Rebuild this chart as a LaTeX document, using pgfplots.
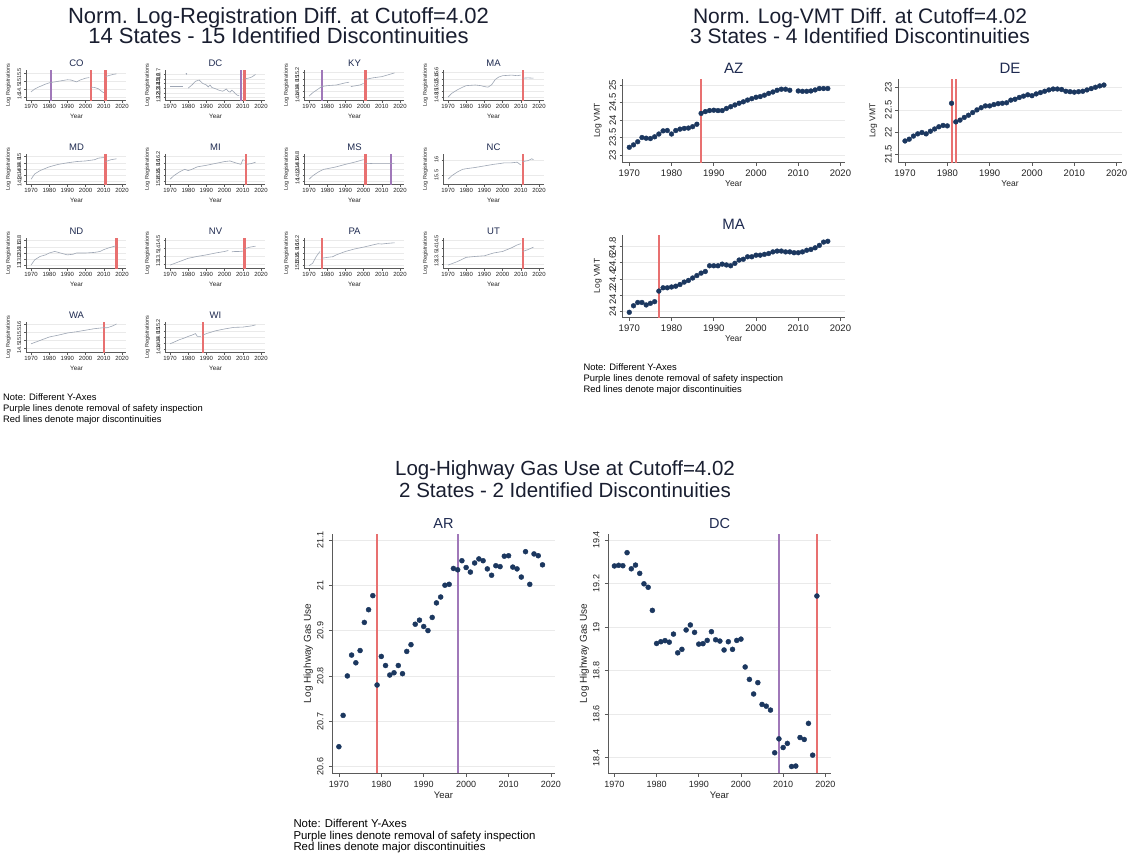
\documentclass[border=0pt]{standalone}
\usepackage{fontspec}
\setmainfont{Liberation Sans}
\usepackage{pgfplots}
\pgfplotsset{compat=1.18}
\definecolor{navyc}{RGB}{27,55,95}
\definecolor{redc}{RGB}{232,112,112}
\definecolor{purc}{RGB}{160,120,185}
\definecolor{gridc}{RGB}{234,234,234}
\definecolor{axc}{RGB}{90,90,90}
\definecolor{titc}{RGB}{30,42,80}
\definecolor{mtc}{RGB}{25,30,48}
\definecolor{txtc}{RGB}{35,35,35}
\definecolor{regc}{RGB}{158,166,180}
\newcommand{\fs}[1]{\fontsize{#1}{#1}\selectfont}
% vertical band: colour, x-left, x-right, y-bottom, y-top
\newcommand{\vb}[5]{\addplot[fill=#1, draw=none, forget plot] coordinates {(#2,#4)(#3,#4)(#3,#5)(#2,#5)};}
\newcommand{\rg}[1]{\addplot[draw=regc, line width=0.6pt, forget plot] coordinates {#1};}
\pgfplotsset{
 base/.style={
  scale only axis,
  axis x line*=bottom, axis y line*=left,
  tick align=outside,
  xtick={1970,1980,1990,2000,2010,2020},
  xticklabels={1970,1980,1990,2000,2010,2020},
  ymajorgrids,
  grid style={draw=gridc, line width=0.6pt},
  axis line style={draw=axc, line width=0.6pt},
  major tick style={draw=axc, line width=0.6pt},
  xticklabel style={anchor=north, inner sep=0pt, text=txtc},
  yticklabel style={rotate=90, anchor=south, inner sep=0pt, text=txtc},
  every axis title/.style={at={(0.5,1)}, anchor=base, text=titc},
  every axis x label/.style={at={(0.5,0)}, anchor=base, text=txtc},
  every axis y label/.style={rotate=90, anchor=center, text=txtc},
  xlabel={Year},
 },
 reg/.style={base, width=100pt, height=31pt, xmin=1967.5, xmax=2022.5, ymin=0, ymax=1,
   ytick={0.12,0.37,0.62,0.87}, major tick length=2pt,
   xticklabel style={font=\fs{6}}, yticklabel style={font=\fs{5.5}},
   xticklabel shift=2pt, yticklabel shift=3pt,
   every axis title/.append style={font=\fs{9.5}, yshift=3.5pt},
   every axis x label/.append style={font=\fs{6.3}, yshift=-18pt},
   ylabel={Log Registrations},
   every axis y label/.append style={font=\fs{5.5}, at={(axis description cs:-0.18,0.5)}},
   grid style={line width=0.4pt}, axis line style={line width=0.4pt}, major tick style={line width=0.4pt}},
 vmt/.style={base, width=222pt, height=84pt, xmin=1968.44, xmax=2021, major tick length=3pt,
   xticklabel style={font=\fs{9.5}}, yticklabel style={font=\fs{9.5}},
   xticklabel shift=4pt, yticklabel shift=3.5pt,
   every axis title/.append style={font=\fs{15}, yshift=5.3pt},
   every axis x label/.append style={font=\fs{8.5}, yshift=-23.5pt},
   ylabel={Log VMT},
   every axis y label/.append style={font=\fs{8.5}, at={(axis description cs:-0.112,0.5)}}},
 gas/.style={base, width=222.5pt, height=239.5pt, xmin=1968.45, xmax=2020.9, major tick length=3.5pt,
   xticklabel style={font=\fs{9}}, yticklabel style={font=\fs{9}},
   xticklabel shift=5pt, yticklabel shift=5.2pt,
   every axis title/.append style={font=\fs{14.5}, yshift=5.5pt},
   every axis x label/.append style={font=\fs{9.5}, yshift=-25.4pt},
   ylabel={Log Highway Gas Use},
   every axis y label/.append style={font=\fs{10}, at={(axis description cs:-0.108,0.5)}}},
 dots/.style={only marks, mark=*, mark size=#1, mark options={fill=navyc, draw=navyc}},
}
\begin{document}
\begin{tikzpicture}
\fill[white] (0,0) rectangle (1127pt,-855pt);
% ---------- titles ----------
\node[anchor=base, font=\fs{22}, text=mtc] at (278.5pt,-23.6pt) {Norm. Log-Registration Diff. at Cutoff=4.02};
\node[anchor=base, font=\fs{22}, text=mtc] at (278.5pt,-43.6pt) {14 States - 15 Identified Discontinuities};
\node[anchor=base, font=\fs{21}, text=mtc] at (860pt,-23.4pt) {Norm. Log-VMT Diff. at Cutoff=4.02};
\node[anchor=base, font=\fs{21}, text=mtc] at (860pt,-43.4pt) {3 States - 4 Identified Discontinuities};
\node[anchor=base, font=\fs{20.5}, text=mtc] at (565pt,-475.3pt) {Log-Highway Gas Use at Cutoff=4.02};
\node[anchor=base, font=\fs{20.5}, text=mtc] at (565pt,-497.3pt) {2 States - 2 Identified Discontinuities};
% ---------- notes ----------
\node[anchor=base west, font=\fs{9.4}, inner sep=0pt] at (3pt,-400.5pt) {Note: Different Y-Axes};
\node[anchor=base west, font=\fs{9.4}, inner sep=0pt] at (3pt,-411.5pt) {Purple lines denote removal of safety inspection};
\node[anchor=base west, font=\fs{9.4}, inner sep=0pt] at (3pt,-422.5pt) {Red lines denote major discontinuities};
\node[anchor=base west, font=\fs{9.4}, inner sep=0pt] at (583.3pt,-370.5pt) {Note: Different Y-Axes};
\node[anchor=base west, font=\fs{9.4}, inner sep=0pt] at (583.3pt,-381.5pt) {Purple lines denote removal of safety inspection};
\node[anchor=base west, font=\fs{9.4}, inner sep=0pt] at (583.3pt,-392.5pt) {Red lines denote major discontinuities};
\node[anchor=base west, font=\fs{11.4}, inner sep=0pt] at (293.3pt,-827.4pt) {Note: Different Y-Axes};
\node[anchor=base west, font=\fs{11.4}, inner sep=0pt] at (293.3pt,-839pt) {Purple lines denote removal of safety inspection};
\node[anchor=base west, font=\fs{11.4}, inner sep=0pt] at (293.3pt,-850.3pt) {Red lines denote major discontinuities};
% ---------- registration panels ----------
% row 1
\begin{axis}[reg, at={(26.5pt,-100.5pt)}, anchor=south west, title={CO}, yticklabels={14,14.5,15,15.5}]
\vb{purc}{1980.4}{1981.6}{0}{1}
\vb{redc}{2002.4}{2003.6}{0}{1}
\vb{redc}{2010.4}{2011.6}{0}{1}
\rg{(1970,0.28)(1972,0.37)(1974,0.43)(1976,0.48)(1978,0.53)(1980,0.57)(1982,0.59)(1985,0.62)(1988,0.65)(1990,0.67)(1992,0.66)(1994,0.62)(1995,0.60)(1997,0.66)(2000,0.72)(2002,0.74)}
\rg{(2003,0.43)(2005,0.42)(2007,0.38)(2009,0.29)(2010,0.25)}
\rg{(2011,0.77)(2013,0.81)(2015,0.84)(2017,0.86)}
\end{axis}
\begin{axis}[reg, at={(165.5pt,-100.5pt)}, anchor=south west, title={DC}, ytick={0.1,0.25,0.4,0.55,0.7,0.85}, yticklabels={12.2,12.3,12.4,12.5,12.6,12.7}]
\vb{purc}{2008.4}{2009.6}{0}{1}
\vb{redc}{2010.4}{2011.6}{0}{1}
\rg{(1970,0.46)(1972,0.46)(1975,0.46)(1977,0.46)}
\addplot[only marks, mark=*, mark size=0.5pt, mark options={draw=regc, fill=regc}, forget plot] coordinates {(1979,0.86)};
\rg{(1980,0.40)(1982,0.50)(1984,0.62)(1986,0.66)(1988,0.55)(1990,0.50)(1991,0.44)(1992,0.50)(1993,0.42)(1995,0.38)(1997,0.33)(1999,0.30)(2001,0.37)(2002,0.30)(2003,0.27)(2004,0.33)(2005,0.28)(2006,0.22)(2007,0.17)(2008,0.16)}
\rg{(2011,0.70)(2013,0.72)(2015,0.76)(2017,0.84)}
\end{axis}
\begin{axis}[reg, at={(304.5pt,-100.5pt)}, anchor=south west, title={KY}, ytick={0.1,0.3,0.5,0.7,0.9}, yticklabels={14.4,14.6,14.8,15,15.2}]
\vb{purc}{1976.4}{1977.6}{0}{1}
\vb{redc}{2000.4}{2001.6}{0}{1}
\rg{(1970,0.14)(1972,0.25)(1975,0.37)(1977,0.45)(1980,0.48)(1985,0.50)(1990,0.57)(1992,0.59)}
\rg{(1993,0.45)(1995,0.47)(1998,0.50)(2000,0.55)}
\rg{(2001,0.68)(2005,0.73)(2010,0.77)(2013,0.82)(2017,0.89)}
\end{axis}
\begin{axis}[reg, at={(443.5pt,-100.5pt)}, anchor=south west, title={MA}, ytick={0.1,0.3,0.5,0.7,0.9}, yticklabels={14.8,15,15.2,15.4,15.6}]
\vb{redc}{2010.4}{2011.6}{0}{1}
\rg{(1970,0.11)(1972,0.23)(1975,0.34)(1978,0.43)(1980,0.48)(1985,0.50)(1988,0.48)(1990,0.45)(1992,0.43)(1994,0.51)(1996,0.68)(1998,0.76)(2000,0.80)(2005,0.82)(2008,0.80)(2010,0.82)}
\rg{(2011,0.72)(2014,0.73)(2017,0.72)}
\end{axis}
% row 2
\begin{axis}[reg, at={(26.5pt,-184.5pt)}, anchor=south west, title={MD}, ytick={0.1,0.3,0.5,0.7,0.9}, yticklabels={14.2,14.4,14.6,14.8,15}]
\vb{redc}{2010.4}{2011.6}{0}{1}
\rg{(1970,0.17)(1972,0.34)(1975,0.45)(1980,0.57)(1985,0.65)(1990,0.70)(1995,0.74)(2000,0.76)(2005,0.80)(2007,0.85)(2010,0.87)}
\rg{(2011,0.74)(2014,0.80)(2017,0.83)}
\end{axis}
\begin{axis}[reg, at={(165.5pt,-184.5pt)}, anchor=south west, title={MI}, ytick={0.1,0.3,0.5,0.7,0.9}, yticklabels={15.4,15.6,15.8,16,16.2}]
\vb{redc}{2011.4}{2012.6}{0}{1}
\rg{(1970,0.17)(1972,0.28)(1975,0.40)(1978,0.49)(1980,0.45)(1982,0.49)(1985,0.57)(1990,0.62)(1995,0.68)(2000,0.74)(2003,0.76)(2006,0.70)(2009,0.65)(2010,0.80)(2011,0.78)}
\rg{(2012,0.65)(2015,0.68)(2017,0.72)}
\end{axis}
\begin{axis}[reg, at={(304.5pt,-184.5pt)}, anchor=south west, title={MS}, ytick={0.1,0.3,0.5,0.7,0.9}, yticklabels={14,14.2,14.4,14.6,14.8}]
\vb{redc}{2000.4}{2001.6}{0}{1}
\vb{purc}{2014.4}{2015.6}{0}{1}
\rg{(1970,0.17)(1972,0.28)(1975,0.40)(1978,0.49)(1980,0.51)(1985,0.57)(1990,0.65)(1995,0.72)(1998,0.77)(2000,0.80)}
\rg{(2001,0.67)(2005,0.68)(2010,0.68)(2015,0.68)(2017,0.68)}
\end{axis}
\begin{axis}[reg, at={(443.5pt,-184.5pt)}, anchor=south west, title={NC}, ytick={0.3,0.8}, yticklabels={15.5,16}]
\vb{redc}{2010.4}{2011.6}{0}{1}
\rg{(1970,0.17)(1972,0.28)(1975,0.40)(1978,0.49)(1980,0.51)(1985,0.55)(1990,0.60)(1995,0.65)(1999,0.68)(2001,0.70)(2005,0.70)(2008,0.72)(2010,0.63)}
\rg{(2011,0.74)(2014,0.77)(2016,0.83)(2017,0.80)}
\end{axis}
% row 3
\begin{axis}[reg, at={(26.5pt,-268.5pt)}, anchor=south west, title={ND}, ytick={0.1,0.3,0.5,0.7,0.9}, yticklabels={13,13.2,13.4,13.6,13.8}]
\vb{redc}{2016.4}{2017.6}{0}{1}
\rg{(1970,0.11)(1972,0.28)(1975,0.39)(1978,0.44)(1980,0.50)(1983,0.55)(1985,0.52)(1988,0.47)(1990,0.44)(1993,0.46)(1995,0.50)(2000,0.50)(2005,0.52)(2008,0.55)(2010,0.61)(2013,0.67)(2016,0.72)(2017,0.73)}
\end{axis}
\begin{axis}[reg, at={(165.5pt,-268.5pt)}, anchor=south west, title={NV}, ytick={0.15,0.4,0.65,0.9}, yticklabels={13,13.5,14,14.5}]
\vb{redc}{2010.4}{2011.6}{0}{1}
\rg{(1970,0.11)(1975,0.22)(1980,0.33)(1985,0.39)(1990,0.44)(1995,0.50)(2000,0.55)(2002,0.58)}
\rg{(2004,0.54)(2006,0.55)(2008,0.55)(2010,0.56)}
\rg{(2011,0.64)(2014,0.69)(2017,0.72)}
\end{axis}
\begin{axis}[reg, at={(304.5pt,-268.5pt)}, anchor=south west, title={PA}, ytick={0.1,0.3,0.5,0.7,0.9}, yticklabels={15.5,15.6,15.8,16,16.2}]
\vb{redc}{1976.4}{1977.6}{0}{1}
\rg{(1970,0.09)(1972,0.17)(1974,0.39)(1976,0.55)}
\rg{(1977,0.33)(1980,0.36)(1983,0.38)(1985,0.44)(1990,0.55)(1995,0.63)(2000,0.69)(2005,0.76)(2008,0.80)(2010,0.79)(2013,0.81)(2017,0.83)}
\end{axis}
\begin{axis}[reg, at={(443.5pt,-268.5pt)}, anchor=south west, title={UT}, ytick={0.15,0.4,0.65,0.9}, yticklabels={13,13.5,14,14.5}]
\vb{redc}{2010.4}{2011.6}{0}{1}
\rg{(1970,0.11)(1975,0.22)(1980,0.36)(1985,0.39)(1990,0.41)(1995,0.50)(2000,0.55)(2005,0.67)(2008,0.76)(2010,0.80)}
\rg{(2011,0.55)(2014,0.61)(2017,0.69)}
\end{axis}
% row 4
\begin{axis}[reg, at={(26.5pt,-352.5pt)}, anchor=south west, title={WA}, ytick={0.15,0.4,0.65,0.9}, yticklabels={14.5,15,15.5,16}]
\vb{redc}{2009.4}{2010.6}{0}{1}
\rg{(1970,0.28)(1975,0.39)(1980,0.50)(1985,0.56)(1990,0.63)(1995,0.67)(2000,0.72)(2005,0.77)(2010,0.80)(2012,0.80)(2015,0.86)(2017,0.92)}
\end{axis}
\begin{axis}[reg, at={(165.5pt,-352.5pt)}, anchor=south west, title={WI}, ytick={0.1,0.3,0.5,0.7,0.9}, yticklabels={14.4,14.6,14.8,15,15.2}]
\vb{redc}{1987.4}{1988.6}{0}{1}
\rg{(1970,0.28)(1972,0.33)(1975,0.41)(1978,0.47)(1980,0.52)(1982,0.56)(1984,0.61)(1985,0.52)(1987,0.52)}
\rg{(1988,0.56)(1990,0.61)(1995,0.70)(2000,0.76)(2005,0.81)(2010,0.82)(2015,0.86)(2017,0.89)}
\end{axis}
% ---------- VMT panels ----------
\begin{axis}[vmt, at={(622.7pt,-162.5pt)}, anchor=south west, title={AZ}, ymin=22.786, ymax=25.186,
  ytick={23,23.5,24,24.5,25}, yticklabels={23,23.5,24,24.5,25}]
\vb{redc}{1986.76}{1987.24}{22.786}{25.186}
\addplot[dots=2.4pt] coordinates {
(1970,23.22)(1971,23.29)(1972,23.38)(1973,23.50)(1974,23.48)(1975,23.47)(1976,23.52)(1977,23.60)(1978,23.69)(1979,23.70)
(1980,23.60)(1981,23.70)(1982,23.74)(1983,23.76)(1984,23.77)(1985,23.81)(1986,23.88)(1987,24.19)(1988,24.24)(1989,24.27)
(1990,24.28)(1991,24.27)(1992,24.27)(1993,24.33)(1994,24.38)(1995,24.43)(1996,24.48)(1997,24.52)(1998,24.57)(1999,24.61)
(2000,24.65)(2001,24.67)(2002,24.71)(2003,24.76)(2004,24.80)(2005,24.85)(2006,24.88)(2007,24.88)(2008,24.85)
(2010,24.83)(2011,24.82)(2012,24.82)(2013,24.83)(2014,24.86)(2015,24.90)(2016,24.90)(2017,24.90)};
\end{axis}
\begin{axis}[vmt, at={(898.3pt,-162.5pt)}, anchor=south west, width=223.4pt, xmin=1968.42, xmax=2021.2, title={DE}, ymin=21.315, ymax=23.207,
  ytick={21.5,22,22.5,23}, yticklabels={21.5,22,22.5,23}]
\vb{redc}{1980.76}{1981.24}{21.315}{23.207}
\vb{redc}{1981.76}{1982.24}{21.315}{23.207}
\addplot[dots=2.4pt] coordinates {
(1970,21.80)(1971,21.84)(1972,21.91)(1973,21.96)(1974,21.99)(1975,21.96)(1976,22.02)(1977,22.07)(1978,22.12)(1979,22.15)
(1980,22.14)(1981,22.65)(1982,22.23)(1983,22.27)(1984,22.33)(1985,22.38)(1986,22.44)(1987,22.50)(1988,22.55)(1989,22.59)
(1990,22.59)(1991,22.62)(1992,22.64)(1993,22.65)(1994,22.66)(1995,22.72)(1996,22.74)(1997,22.78)(1998,22.81)(1999,22.84)
(2000,22.82)(2001,22.86)(2002,22.89)(2003,22.92)(2004,22.95)(2005,22.97)(2006,22.97)(2007,22.96)(2008,22.92)(2009,22.91)
(2010,22.90)(2011,22.91)(2012,22.92)(2013,22.95)(2014,22.98)(2015,23.01)(2016,23.04)(2017,23.06)};
\end{axis}
\begin{axis}[vmt, at={(622.7pt,-317.5pt)}, anchor=south west, height=83pt, title={MA}, ymin=23.926, ymax=24.943,
  ytick={24,24.2,24.4,24.6,24.8}, yticklabels={24,24.2,24.4,24.6,24.8}]
\vb{redc}{1976.76}{1977.24}{23.926}{24.943}
\addplot[dots=2.4pt] coordinates {
(1970,23.99)(1971,24.07)(1972,24.11)(1973,24.11)(1974,24.08)(1975,24.10)(1976,24.12)(1977,24.25)(1978,24.29)(1979,24.29)
(1980,24.30)(1981,24.31)(1982,24.33)(1983,24.36)(1984,24.38)(1985,24.41)(1986,24.44)(1987,24.47)(1988,24.49)(1989,24.56)
(1990,24.56)(1991,24.56)(1992,24.58)(1993,24.57)(1994,24.56)(1995,24.59)(1996,24.63)(1997,24.64)(1998,24.67)(1999,24.67)
(2000,24.69)(2001,24.69)(2002,24.70)(2003,24.71)(2004,24.73)(2005,24.74)(2006,24.74)(2007,24.73)(2008,24.73)(2009,24.72)
(2010,24.72)(2011,24.73)(2012,24.75)(2013,24.76)(2014,24.78)(2015,24.81)(2016,24.85)(2017,24.86)};
\end{axis}
% ---------- Gas panels ----------
\begin{axis}[gas, at={(332.3pt,-773pt)}, anchor=south west, title={AR}, ymin=20.586, ymax=21.114,
  ytick={20.6,20.7,20.8,20.9,21,21.1}, yticklabels={20.6,20.7,20.8,20.9,21,21.1}]
\vb{redc}{1978.76}{1979.24}{20.586}{21.114}
\vb{purc}{1997.76}{1998.24}{20.586}{21.114}
\addplot[dots=2.5pt] coordinates {
(1970,20.644)(1971,20.713)(1972,20.800)(1973,20.846)(1974,20.829)(1975,20.856)(1976,20.918)(1977,20.946)(1978,20.977)(1979,20.780)
(1980,20.843)(1981,20.823)(1982,20.802)(1983,20.807)(1984,20.823)(1985,20.805)(1986,20.854)(1987,20.869)(1988,20.914)(1989,20.923)
(1990,20.909)(1991,20.900)(1992,20.929)(1993,20.961)(1994,20.974)(1995,21.000)(1996,21.002)(1997,21.037)(1998,21.034)(1999,21.054)
(2000,21.039)(2001,21.029)(2002,21.049)(2003,21.058)(2004,21.054)(2005,21.036)(2006,21.022)(2007,21.043)(2008,21.041)(2009,21.064)
(2010,21.065)(2011,21.040)(2012,21.036)(2013,21.018)(2014,21.074)(2015,21.002)(2016,21.069)(2017,21.065)(2018,21.045)};
\end{axis}
\begin{axis}[gas, at={(608.3pt,-773pt)}, anchor=south west, xmin=1968.55, xmax=2021.3, title={DC}, ymin=18.33, ymax=19.43,
  ytick={18.4,18.6,18.8,19,19.2,19.4}, yticklabels={18.4,18.6,18.8,19,19.2,19.4}]
\vb{purc}{2008.76}{2009.24}{18.33}{19.43}
\vb{redc}{2017.76}{2018.24}{18.33}{19.43}
\addplot[dots=2.5pt] coordinates {
(1970,19.281)(1971,19.284)(1972,19.282)(1973,19.342)(1974,19.268)(1975,19.285)(1976,19.247)(1977,19.199)(1978,19.183)(1979,19.077)
(1980,18.925)(1981,18.933)(1982,18.938)(1983,18.931)(1984,18.968)(1985,18.882)(1986,18.898)(1987,18.987)(1988,19.010)(1989,18.976)
(1990,18.922)(1991,18.924)(1992,18.939)(1993,18.979)(1994,18.942)(1995,18.936)(1996,18.895)(1997,18.933)(1998,18.898)(1999,18.939)
(2000,18.945)(2001,18.817)(2002,18.760)(2003,18.693)(2004,18.745)(2005,18.645)(2006,18.637)(2007,18.619)(2008,18.423)(2009,18.487)
(2010,18.447)(2011,18.466)(2012,18.360)(2013,18.362)(2014,18.493)(2015,18.484)(2016,18.558)(2017,18.412)(2018,19.143)};
\end{axis}
\pgfresetboundingbox
\path (0,0) rectangle (1127pt,-855pt);
\end{tikzpicture}
\end{document}
